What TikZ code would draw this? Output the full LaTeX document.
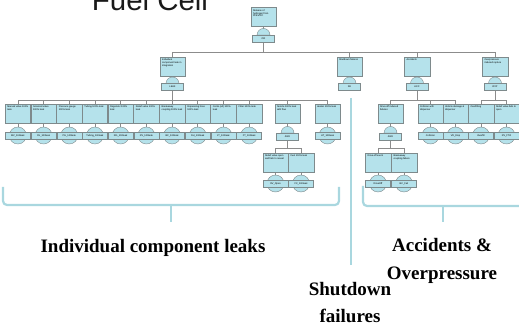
\documentclass[tikz,border=0pt]{standalone}
\usepackage{fontspec}
\setmainfont{Liberation Serif}
\newfontfamily\sansfont{Liberation Sans}
\usetikzlibrary{calc}
\pgfdeclarelayer{bg}
\pgfsetlayers{bg,main}
\definecolor{boxfill}{HTML}{B5E2EB}
\definecolor{boxline}{HTML}{7E8A8C}
\definecolor{wirecol}{HTML}{8C8C8C}
\definecolor{bracecol}{HTML}{A9D7DF}
\newcommand{\tinyf}{\sansfont\fontsize{2.4}{2.8}\selectfont}
\newcommand{\btxt}[1]{\parbox[c][15pt][t]{21pt}{\raggedright #1}}
% gate symbol: a dome sitting on a small label plate
\newcommand{\gate}[4]{%
  \path[draw=boxline, fill=boxfill, line width=0.4pt]
    ({#2-6.5},{#3-3.5}) arc[start angle=180, end angle=360, radius=6.5] -- cycle;
  \node[gatelab] (#1) at (#2,#3) {#4};}
% basic event: circle with its code plate across the middle
\newcommand{\basic}[4]{%
  \node[evcirc] (#1c) at (#2,#3) {};
  \node[evlab] (#1) at (#2,#3) {#4};}
\tikzset{
  evbox/.style={draw=boxline, fill=boxfill, line width=0.5pt, rectangle,
    minimum width=25.5pt, minimum height=19pt, inner sep=1pt, font=\tinyf},
  gatelab/.style={draw=boxline, fill=boxfill, line width=0.4pt, rectangle,
    minimum width=22pt, minimum height=7pt, inner sep=0pt, font=\tinyf},
  evlab/.style={draw=boxline, fill=boxfill, line width=0.4pt, rectangle,
    minimum width=25pt, minimum height=6.5pt, inner sep=0pt, font=\tinyf},
  evcirc/.style={circle, draw=boxline, fill=boxfill, line width=0.4pt,
    minimum size=17pt, inner sep=0pt},
  wire/.style={draw=wirecol, line width=0.6pt},
  brace/.style={draw=bracecol, line width=2.2pt, rounded corners=4pt},
  caption/.style={font=\bfseries\fontsize{19}{22}\selectfont, anchor=base, inner sep=0pt},
}
\begin{document}
\begin{tikzpicture}[x=1pt, y=-1pt]
\useasboundingbox (0,0) rectangle (519,331);
\clip (0,0) rectangle (519,331);

% title
\node[font=\sansfont\fontsize{29.4}{32}\selectfont, anchor=base, inner sep=0pt, text=black!90]
  (title) at (150,11) {Fuel Cell};

% top event
\node[evbox] (top) at (263.5,17) {\btxt{Release of hydrogen from FCEV/FC}};
\gate{g0}{263.5}{38.5}{OR}

% second level
\node[evbox] (ic)  at (172.5,66.5) {\btxt{Individual component leak in integration}};
\gate{gic}{172.5}{87}{LEAK}
\node[evbox] (sd)  at (349.5,66.5) {\btxt{Shutdown failures}};
\gate{gsd}{349.5}{87}{SD}
\node[evbox] (acc) at (417,66.5)   {\btxt{Accidents}};
\gate{gacc}{417}{87}{ACC}
\node[evbox] (ovp) at (495,66.5)   {\btxt{Overpressure induced rupture}};
\gate{govp}{495}{87}{OVP}

% individual component leaks
\foreach \i/\x/\t/\l in {
  1/17.85/{Manual valve 100\% leak}/MV\_100leak,
  2/43.55/{Solenoid valve 100\% leak}/SV\_100leak,
  3/69.25/{Pressure gauge 100\% leak}/PG\_100leak,
  4/94.95/{Tubing 100\% leak}/Tubing\_100leak,
  5/120.65/{Regulator 100\% leak}/RG\_100leak,
  6/146.35/{Relief valve 100\% leak}/RV\_100leak,
  7/172.05/{Breakaway coupling 100\% leak}/BC\_100leak,
  8/197.75/{Dispensing hose 100\% leak}/DH\_100leak,
  9/223.45/{Joints (all) 100\% leak}/JT\_100leak,
  10/249.15/{Filter 100\% leak}/FT\_100leak,
  12/327.5/{Heater 100\% leak}/HT\_100leak}{
  \node[evbox] (r\i) at (\x,113.5) {\btxt{\t}};
  \basic{e\i}{\x}{135.5}{\l}
}
\node[evbox] (r11) at (287.5,113.5) {\btxt{Nozzle 100\% leak with flow}};
\gate{g11}{287.5}{136.5}{AND}
\node[evbox] (s1) at (275.5,162.5) {\btxt{Relief valve open and fails to reseat}};
\node[evbox] (s2) at (301,162.5)   {\btxt{Fuel 100\% leak}};
\basic{es1}{275.5}{183.5}{RV\_Open}
\basic{es2}{301}{183.5}{FC\_100leak}

% accidents and overpressure
\node[evbox] (a1) at (390.5,113.5) {\btxt{Drive-off induced failures}};
\gate{ga1}{390.5}{136.5}{AND}
\node[evbox] (a2) at (430.5,113.5) {\btxt{Collision with dispenser}};
\node[evbox] (a3) at (455.5,113.5) {\btxt{Vehicle damage \& dispenser}};
\node[evbox] (o1) at (481,113.5)   {\btxt{Overfilling}};
\node[evbox] (o2) at (506.5,113.5) {\btxt{Relief valve fails to open}};
\basic{ea2}{430.5}{135.5}{Collision}
\basic{ea3}{455.5}{135.5}{VD\_Disp}
\basic{eo1}{481}{135.5}{Overfill}
\basic{eo2}{506.5}{135.5}{RV\_FTO}
\node[evbox] (d1) at (378,162.5) {\btxt{Drive-off event}};
\node[evbox] (d2) at (404,162.5) {\btxt{Breakaway coupling failure}};
\basic{ed1}{378}{183.5}{DriveOff}
\basic{ed2}{404}{183.5}{BC\_Fail}

% bus levels
\coordinate (busT) at (0,52);
\coordinate (busA) at (0,100);
\coordinate (busB) at (0,148);

\begin{pgfonlayer}{bg}
  \draw[wire] (top) -- (g0);
  \foreach \n in {ic,sd,acc,ovp}
    \draw[wire] (g0.south) |- (\n.north |- busT) -- (\n.north);
  \foreach \n in {ic,sd,acc,ovp}
    \draw[wire] (\n) -- (g\n);
  \foreach \n in {1,...,12}
    \draw[wire] (gic.south) |- (r\n.north |- busA) -- (r\n.north);
  \foreach \n in {1,2,3,4,5,6,7,8,9,10,12}
    \draw[wire] (r\n) -- (e\n);
  \draw[wire] (r11) -- (g11);
  \foreach \n in {s1,s2}
    \draw[wire] (g11.south) |- (\n.north |- busB) -- (\n.north);
  \draw[wire] (s1) -- (es1);
  \draw[wire] (s2) -- (es2);
  \foreach \n in {a1,a2,a3}
    \draw[wire] (gacc.south) |- (\n.north |- busA) -- (\n.north);
  \foreach \n in {o1,o2}
    \draw[wire] (govp.south) |- (\n.north |- busA) -- (\n.north);
  \draw[wire] (a1) -- (ga1);
  \foreach \n in {d1,d2}
    \draw[wire] (ga1.south) |- (\n.north |- busB) -- (\n.north);
  \draw[wire] (d1) -- (ed1);
  \draw[wire] (d2) -- (ed2);
  \draw[wire] (a2) -- (ea2);
  \draw[wire] (a3) -- (ea3);
  \draw[wire] (o1) -- (eo1);
  \draw[wire] (o2) -- (eo2);
\end{pgfonlayer}

% group brackets
\coordinate (bl1) at (3,187);
\coordinate (bl2) at (339,187);
\coordinate (bl3) at (171,222);
\draw[brace] (bl1) -- (3,205) -- (339,205) -- (bl2);
\draw[brace] (171,205) -- (bl3);
\coordinate (sd1) at (351,98);
\coordinate (sd2) at (351,265);
\draw[draw=bracecol, line width=2.6pt] (sd1) -- (sd2);
\coordinate (br1) at (363,186);
\coordinate (br2) at (525,206);
\coordinate (br3) at (443,222);
\draw[brace] (br1) -- (363,206) -- (br2);
\draw[brace] (443,206) -- (br3);

% group captions
\node[caption] (capA) at (153,252.5) {Individual component leaks};
\node[caption] (capB) at (442,251)   {Accidents \&};
\node[caption] (capC) at (442,279)   {Overpressure};
\node[caption] (capD) at (350,295.5) {Shutdown};
\node[caption] (capE) at (350,322.5) {failures};
\end{tikzpicture}
\end{document}
